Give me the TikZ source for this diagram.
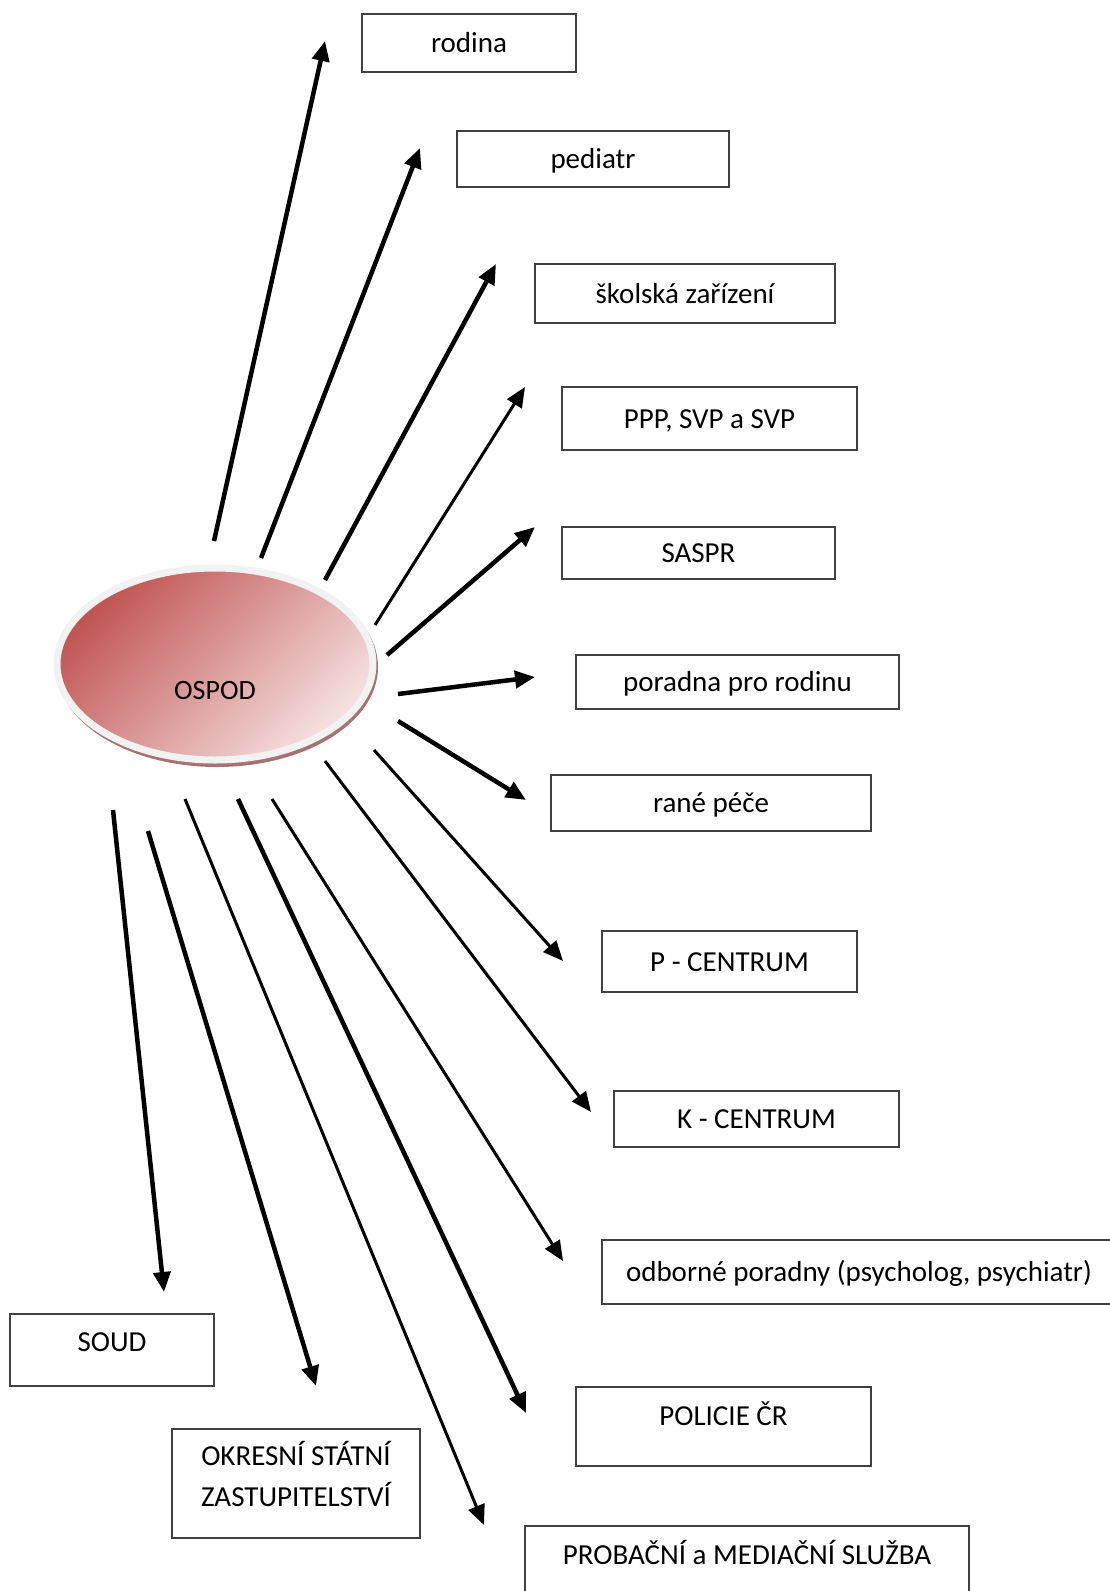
\documentclass[tikz,border=0pt]{standalone}
\usepackage{fontspec}
\setmainfont{Carlito}
\usetikzlibrary{arrows.meta,shapes.geometric}

\definecolor{ospdark}{RGB}{192,84,82}
\definecolor{osplight}{RGB}{245,225,224}
\definecolor{ringgrey}{RGB}{242,242,242}
\definecolor{shadowred}{RGB}{165,115,115}
\definecolor{boxline}{RGB}{64,64,64}

\tikzset{
  box/.style={draw=boxline, line width=1.5pt, rectangle, inner sep=0pt, font=\fontsize{29}{41}\selectfont},
  cbox/.style={box, text height=23pt, text depth=4pt},
  thickarr/.style={-{Triangle[length=20pt,width=17pt]}, line width=4.5pt},
  thinarr/.style={-{Triangle[length=20pt,width=17pt]}, line width=3pt}
}

\begin{document}
\begin{tikzpicture}[x=1pt,y=-1pt]
\useasboundingbox (0,0) rectangle (1109,1591);

% OSPOD
\fill[shadowred] (217,667) ellipse [x radius=161, y radius=100];
\node[ellipse, minimum width=316pt, minimum height=192pt, draw=ringgrey, line width=7pt,
      top color=ospdark, bottom color=osplight, shading angle=45, inner sep=0pt,
      text height=70pt, text depth=0pt, font=\fontsize{28}{34}\selectfont] (ospod) at (215,664) {OSPOD};

% right side
\node[cbox, minimum width=214pt, minimum height=58pt] (rodina) at (469,43) {rodina};
\node[cbox, minimum width=272pt, minimum height=56pt] (pediatr) at (593,159) {pediatr};
\node[cbox, minimum width=300pt, minimum height=59pt] (skolska) at (685,293.5) {školská zařízení};
\node[cbox, minimum width=295pt, minimum height=63pt] (ppp) at (709.5,418.5) {PPP, SVP a SVP};
\node[cbox, minimum width=273pt, minimum height=52pt] (saspr) at (698.5,553) {SASPR};
\node[cbox, minimum width=323pt, minimum height=54pt] (poradna) at (737.5,682) {poradna pro rodinu};
\node[cbox, minimum width=320pt, minimum height=56pt] (rane) at (711,803) {rané péče};
\node[cbox, minimum width=255pt, minimum height=61pt] (pcentrum) at (729.5,961.5) {P - CENTRUM};
\node[cbox, minimum width=285pt, minimum height=56pt] (kcentrum) at (756.5,1119) {K - CENTRUM};
\node[cbox, minimum width=514pt, minimum height=64pt] (odborne) at (859,1272) {odborné poradny (psycholog, psychiatr)};

% bottom
\node[box, minimum width=204pt, text height=37pt, text depth=35pt] (soud) at (112,1350) {SOUD};
\node[box, minimum width=248pt, align=center, text height=77pt, text depth=32pt] (okresni) at (296,1483.5) {OKRESNÍ STÁTNÍ\\ZASTUPITELSTVÍ};
\node[box, minimum width=295pt, text height=38pt, text depth=41pt] (policie) at (723.5,1426.5) {POLICIE ČR};
\node[box, minimum width=444pt, text height=38pt, text depth=60pt] (probacni) at (747,1575) {PROBAČNÍ a MEDIAČNÍ SLUŽBA};

% arrow ends
\coordinate (s1) at (214,541);  \coordinate (e1) at (325,41);
\coordinate (s2) at (261,558);  \coordinate (e2) at (420,148);
\coordinate (s3) at (325,580);  \coordinate (e3) at (496,264);
\coordinate (s4) at (375,625);  \coordinate (e4) at (525,387);
\coordinate (s5) at (387,655);  \coordinate (e5) at (535,527);
\coordinate (s6) at (398,694);  \coordinate (e6) at (535,677);
\coordinate (s7) at (398,721);  \coordinate (e7) at (526,800);
\coordinate (s8) at (374,750);  \coordinate (e8) at (563,961);
\coordinate (s9) at (325,761);  \coordinate (e9) at (591,1112);
\coordinate (s10) at (272,799); \coordinate (e10) at (563,1261);
\coordinate (s11) at (238,799); \coordinate (e11) at (526,1413);
\coordinate (s12) at (185,799); \coordinate (e12) at (484,1525);
\coordinate (s13) at (148,831); \coordinate (e13) at (316,1386);
\coordinate (s14) at (113,810); \coordinate (e14) at (164,1292);

\foreach \i/\w in {1/thickarr,2/thickarr,3/thickarr,4/thinarr,5/thickarr,6/thickarr,7/thickarr,
                   8/thinarr,9/thinarr,10/thinarr,11/thickarr,12/thinarr,13/thickarr,14/thickarr}
  \draw[\w] (s\i) -- (e\i);
\end{tikzpicture}
\end{document}
